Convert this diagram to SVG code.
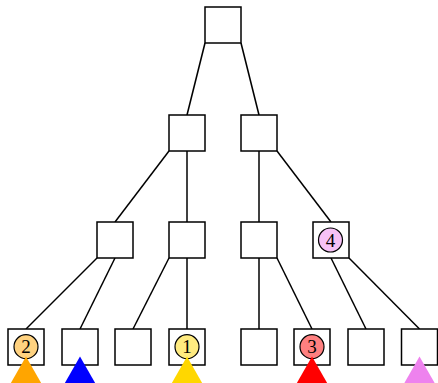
<svg xmlns="http://www.w3.org/2000/svg" width="438" height="383" viewBox="0 0 438 383">
  <style>
    .box { fill: #ffffff; stroke: #000000; stroke-width: 1.5; }
    .edge { stroke: #000000; stroke-width: 1.5; fill: none; }
    .mark { stroke: #000000; stroke-width: 1.2; }
    .num { font-family: "Liberation Serif", "DejaVu Serif", serif; font-size: 19px; text-anchor: middle; fill: #000000; }
  </style>
  <rect width="438" height="383" fill="#ffffff"/>

  <g id="connectors">
    <line class="edge" x1="205" y1="43" x2="187" y2="115"/>
    <line class="edge" x1="241" y1="43" x2="259" y2="115"/>
    <line class="edge" x1="169" y1="151" x2="115" y2="222"/>
    <line class="edge" x1="187" y1="151" x2="187" y2="222"/>
    <line class="edge" x1="259" y1="151" x2="259" y2="222"/>
    <line class="edge" x1="277" y1="151" x2="331" y2="222"/>
    <line class="edge" x1="97" y1="258" x2="26" y2="329"/>
    <line class="edge" x1="115" y1="258" x2="80" y2="329"/>
    <line class="edge" x1="169" y1="258" x2="133" y2="329"/>
    <line class="edge" x1="187" y1="258" x2="187" y2="329"/>
    <line class="edge" x1="259" y1="258" x2="259" y2="329"/>
    <line class="edge" x1="277" y1="258" x2="312" y2="329"/>
    <line class="edge" x1="331" y1="258" x2="366" y2="329"/>
    <line class="edge" x1="349" y1="258" x2="419.5" y2="329"/>
  </g>

  <!-- root -->
  <g id="root"><rect class="box" x="205" y="7" width="36" height="36"/></g>

  <!-- second level -->
  <g id="n-l"><rect class="box" x="169" y="115" width="36" height="36"/></g>
  <g id="n-r"><rect class="box" x="241" y="115" width="36" height="36"/></g>

  <!-- third level -->
  <g id="n-ll"><rect class="box" x="97" y="222" width="36" height="36"/></g>
  <g id="n-lr"><rect class="box" x="169" y="222" width="36" height="36"/></g>
  <g id="n-rl"><rect class="box" x="241" y="222" width="36" height="36"/></g>
  <g id="n-rr">
    <rect class="box" x="313" y="222" width="36" height="36"/>
    <circle class="mark" cx="330.5" cy="240" r="12" fill="#f6c1f6"/>
    <text class="num" x="330.5" y="246.6">4</text>
  </g>

  <!-- leaves -->
  <g id="leaf-1">
    <rect class="box" x="8" y="329" width="36" height="36"/>
    <circle class="mark" cx="26" cy="346.7" r="12" fill="#ffd280"/>
    <text class="num" x="26" y="353.3">2</text>
    <polygon points="26,356.5 10,384.5 42,384.5" fill="#ffa500"/>
  </g>
  <g id="leaf-2">
    <rect class="box" x="62" y="329" width="36" height="36"/>
    <polygon points="80,356.5 64,384.5 96,384.5" fill="#0000ff"/>
  </g>
  <g id="leaf-3"><rect class="box" x="115" y="329" width="36" height="36"/></g>
  <g id="leaf-4">
    <rect class="box" x="169" y="329" width="36" height="36"/>
    <circle class="mark" cx="187" cy="346.7" r="12" fill="#ffeb80"/>
    <text class="num" x="187" y="353.3">1</text>
    <polygon points="187,356.5 171,384.5 203,384.5" fill="#ffd700"/>
  </g>
  <g id="leaf-5"><rect class="box" x="241" y="329" width="36" height="36"/></g>
  <g id="leaf-6">
    <rect class="box" x="294" y="329" width="36" height="36"/>
    <circle class="mark" cx="312" cy="346.7" r="12" fill="#ff8080"/>
    <text class="num" x="312" y="353.3">3</text>
    <polygon points="312,356.5 296,384.5 328,384.5" fill="#ff0000"/>
  </g>
  <g id="leaf-7"><rect class="box" x="348" y="329" width="36" height="36"/></g>
  <g id="leaf-8">
    <rect class="box" x="401.5" y="329" width="36" height="36"/>
    <polygon points="419.5,356.5 403.5,384.5 435.5,384.5" fill="#ee82ee"/>
  </g>
</svg>
